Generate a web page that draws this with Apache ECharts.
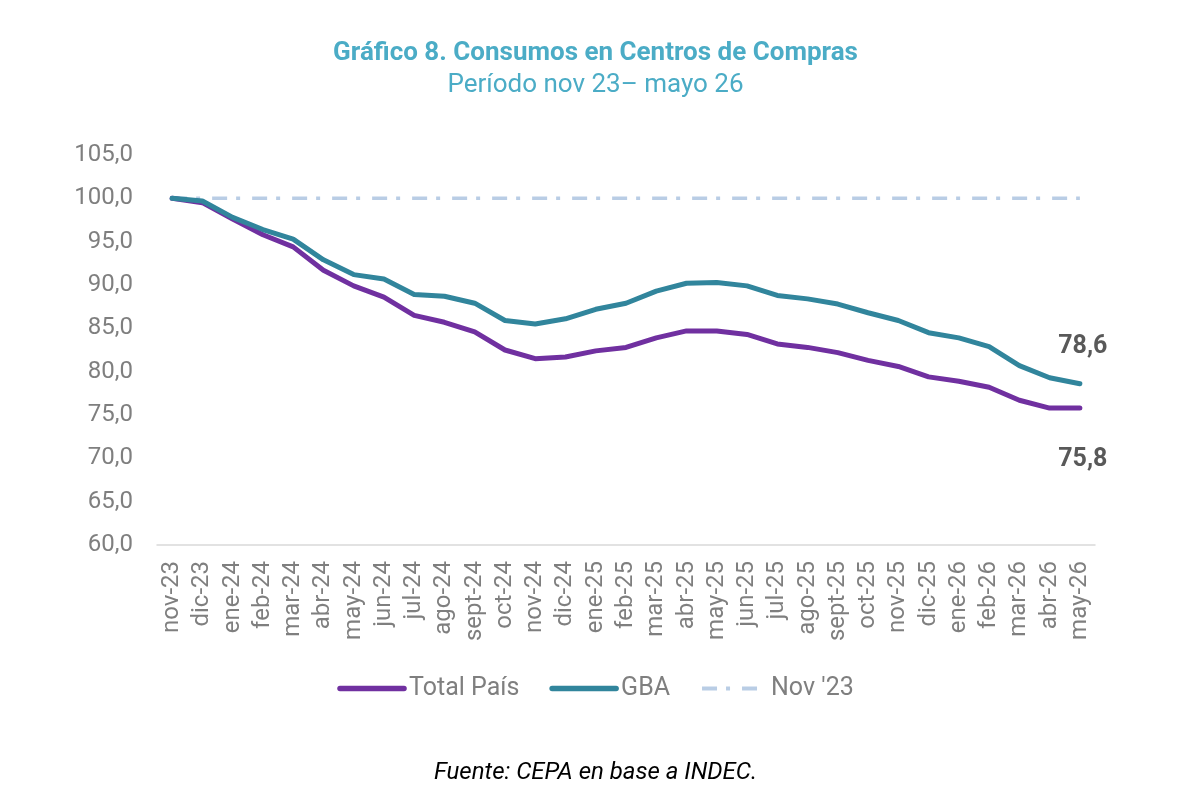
<!DOCTYPE html>
<html>
<head>
<meta charset="utf-8">
<script src="https://cdn.jsdelivr.net/npm/echarts@6/dist/echarts.min.js"></script>
<style>
  html, body { margin: 0; padding: 0; background: #fff; }
  #chart { width: 1191px; height: 802px; }
</style>
</head>
<body>
<div id="chart"></div>
<script>
const months = ['nov-23', 'dic-23', 'ene-24', 'feb-24', 'mar-24', 'abr-24', 'may-24', 'jun-24', 'jul-24', 'ago-24',
  'sept-24', 'oct-24', 'nov-24', 'dic-24', 'ene-25', 'feb-25', 'mar-25', 'abr-25', 'may-25', 'jun-25', 'jul-25',
  'ago-25', 'sept-25', 'oct-25', 'nov-25', 'dic-25', 'ene-26', 'feb-26', 'mar-26', 'abr-26', 'may-26'];

const totalPais = [100.0, 99.5, 97.6, 95.8, 94.4, 91.7, 89.9, 88.6, 86.5, 85.7,
  84.6, 82.5, 81.5, 81.7, 82.4, 82.8, 83.9, 84.7, 84.7, 84.3, 83.2,
  82.8, 82.2, 81.3, 80.6, 79.4, 78.9, 78.2, 76.7, 75.8, 75.8];

const gba = [100.0, 99.7, 97.8, 96.4, 95.3, 92.9, 91.2, 90.7, 88.9, 88.7,
  87.9, 85.9, 85.5, 86.1, 87.2, 87.9, 89.3, 90.2, 90.3, 89.9, 88.8,
  88.4, 87.8, 86.8, 85.9, 84.5, 83.9, 82.9, 80.7, 79.3, 78.6];

const base = months.map(() => 100);

const yMin = 60, yMax = 105, yStep = 5;

const fmt = v => v.toFixed(1).replace('.', ',');

const chart = echarts.init(document.getElementById('chart'));

// etiqueta del último valor, centrada sobre/bajo el punto final
function endLabel(dy) {
  return {
    show: true,
    align: 'center',
    verticalAlign: 'middle',
    distance: 0,
    offset: [3, dy],
    fontFamily: 'Roboto',
    fontSize: 25,
    fontWeight: 'bold',
    color: '#595959',
    formatter: p => fmt(p.value)
  };
}

chart.setOption({
  animation: false,
  textStyle: { fontFamily: 'Roboto' },
  title: [
    {
      text: 'Gráfico 8. Consumos en Centros de Compras',
      left: 'center',
      top: 35,
      textStyle: { fontFamily: 'Roboto', fontSize: 26, fontWeight: 'bold', color: '#4BACC6' }
    },
    {
      text: 'Período nov 23– mayo 26',
      left: 'center',
      top: 67,
      textStyle: { fontFamily: 'Roboto', fontSize: 26, fontWeight: 'normal', color: '#4BACC6' }
    },
    {
      text: 'Fuente: CEPA en base a INDEC.',
      left: 'center',
      top: 756,
      textStyle: { fontFamily: 'Roboto', fontSize: 24, fontWeight: 'normal', fontStyle: 'italic', color: '#000' }
    }
  ],
  legend: {
    top: 671,
    left: 'center',
    itemWidth: 64,
    itemHeight: 6,
    itemGap: 30,
    itemStyle: { opacity: 0 },
    lineStyle: { width: 5.5, cap: 'round' },
    textStyle: { fontFamily: 'Roboto', fontSize: 25, color: '#7f7f7f' },
    data: [
      { name: 'Total País' },
      { name: 'GBA' },
      { name: "Nov '23", lineStyle: { width: 4, cap: 'butt' } }
    ]
  },
  grid: { left: 157, right: 96, top: 155, bottom: 257, containLabel: false },
  xAxis: {
    type: 'category',
    data: months,
    boundaryGap: true,
    axisLine: { lineStyle: { color: '#d9d9d9', width: 1.5 } },
    axisTick: { show: false },
    axisLabel: {
      rotate: 90,
      interval: 0,
      margin: 16,
      fontFamily: 'Roboto',
      fontSize: 24,
      color: '#7f7f7f'
    }
  },
  yAxis: {
    type: 'value',
    min: yMin,
    max: yMax,
    interval: yStep,
    splitLine: { show: false },
    axisLine: { show: false },
    axisTick: { show: false },
    axisLabel: {
      margin: 24,
      fontFamily: 'Roboto',
      fontSize: 24,
      color: '#7f7f7f',
      formatter: v => fmt(v)
    }
  },
  series: [
    {
      name: 'Total País',
      type: 'line',
      data: totalPais,
      symbol: 'none',
      z: 3,
      lineStyle: { color: '#7030A0', width: 5, cap: 'round', join: 'round' },
      itemStyle: { color: '#7030A0' },
      endLabel: endLabel(52)
    },
    {
      name: 'GBA',
      type: 'line',
      data: gba,
      symbol: 'none',
      z: 4,
      lineStyle: { color: '#31859C', width: 5, cap: 'round', join: 'round' },
      itemStyle: { color: '#31859C' },
      endLabel: endLabel(-37)
    },
    {
      name: "Nov '23",
      type: 'line',
      data: base,
      symbol: 'none',
      z: 2,
      lineStyle: { color: '#B9CDE5', width: 3.5, type: [15, 9, 4, 12] },
      itemStyle: { color: '#B9CDE5' }
    }
  ]
});
</script>
</body>
</html>
